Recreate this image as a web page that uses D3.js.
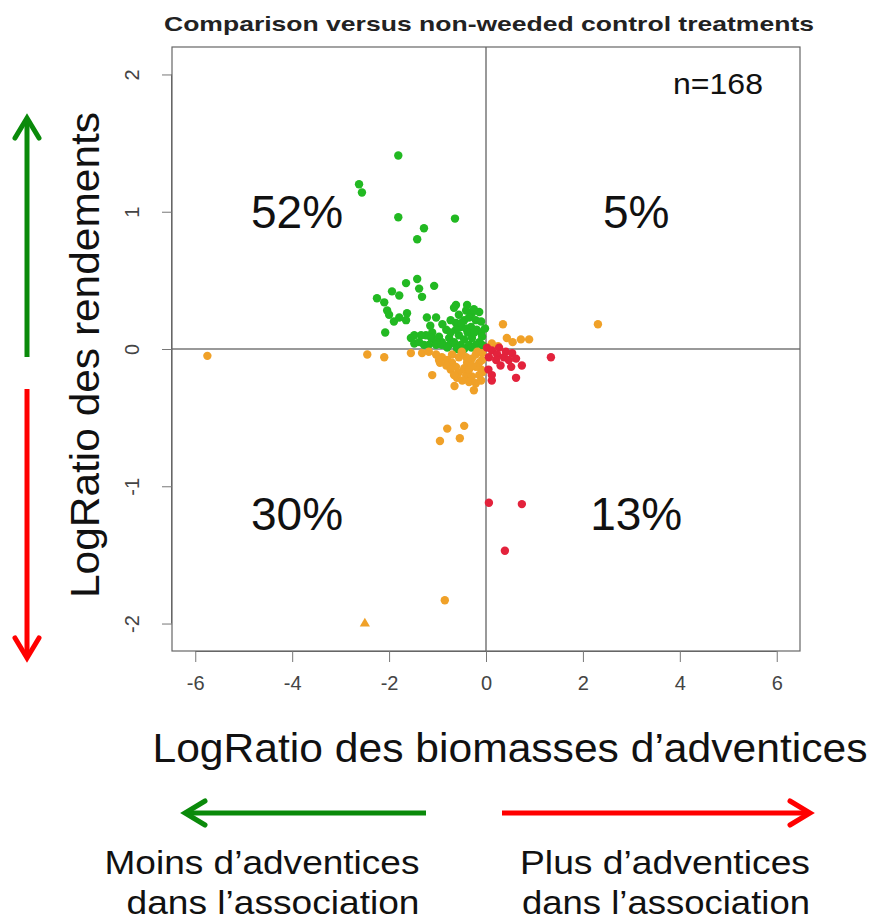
<!DOCTYPE html>
<html>
<head>
<meta charset="utf-8">
<script src="https://cdn.jsdelivr.net/npm/d3@7"></script>
<style>
  body { margin: 0; background: #fff; }
  text { font-family: "Liberation Sans", Arial, sans-serif; }
</style>
</head>
<body>
<svg id="chart" width="874" height="921"></svg>
<script>
// upper-left: yield up, weeds down
const greenPts = [
  [-1.81,1.41],[-2.62,1.20],[-2.56,1.14],[-1.81,0.96],[-0.64,0.95],[-1.28,0.88],[-1.42,0.80],
  [-1.65,0.48],[-1.42,0.51],[-1.38,0.44],[-1.07,0.46],[-1.94,0.42],[-1.79,0.39],[-2.25,0.37],
  [-2.10,0.34],[-2.04,0.28],[-2.00,0.25],[-1.63,0.26],[-1.65,0.21],[-1.32,0.38],[-1.22,0.23],
  [-1.03,0.23],[-2.08,0.12],[-0.62,0.32],[-0.41,0.28],[-0.29,0.26],[-0.14,0.27],
  [-0.56,0.25],[-0.45,0.21],[-0.35,0.23],[-0.21,0.21],[-0.10,0.20],[-0.62,0.19],[-0.52,0.16],
  [-0.41,0.15],[-0.31,0.16],[-0.19,0.14],[-0.10,0.12],[-1.11,0.12],[-0.82,0.14],[-1.24,0.10],
  [-1.13,0.08],[-0.97,0.09],[-0.91,0.05],[-1.03,0.05],[-0.76,0.08],[-0.66,0.05],[-0.56,0.10],
  [-0.45,0.07],[-0.29,0.08],[-0.14,0.05],[-0.08,0.09],[-1.55,0.08],[-1.48,0.04],[-1.38,0.05],
  [-1.28,0.03],[-1.18,0.03],[-1.03,0.03],[-0.91,0.03],[-0.76,0.03],[-0.62,0.03],[-0.52,0.03],
  [-0.35,0.03],[-0.21,0.03],[-0.08,0.03],
  [-0.66,0.30],[-0.39,0.32],[-0.25,0.29],[-0.62,0.14],[-0.73,0.12],[-0.38,0.12],[-0.24,0.12],
  [-0.51,0.19],[-0.73,0.21],[-1.34,0.10],[-1.48,0.10],[-1.90,0.20],[-1.79,0.23],
  [-0.05,0.02],[-0.02,0.15],[-0.90,0.18],[-1.15,0.17],[-0.45,0.00],[-0.30,0.01],[-0.60,0.00],[-0.80,0.01]
];
// lower-left and upper-right
const orangePts = [
  [-5.75,-0.05],[-2.45,-0.04],[-2.10,-0.06],[-1.11,-0.19],
  [-1.32,-0.03],[-1.18,-0.02],[-1.03,-0.04],[-0.91,-0.06],[-0.80,-0.08],[-0.70,-0.10],[-0.62,-0.13],
  [-0.56,-0.17],[-0.41,-0.19],[-0.29,-0.20],[-0.14,-0.19],[-0.10,-0.15],[-0.14,-0.10],[-0.29,-0.07],
  [-0.39,-0.10],[-0.45,-0.14],[-0.35,-0.15],[-0.21,-0.13],[-0.60,-0.21],[-0.49,-0.23],[-0.35,-0.24],
  [-0.21,-0.25],[-0.10,-0.23],[-0.97,-0.08],[-0.82,-0.12],[-0.73,-0.15],[-0.66,-0.19],[-0.08,-0.03],
  [-0.41,-0.06],[-0.56,-0.06],[-0.70,-0.04],[-0.21,-0.04],[-0.08,-0.08],[-0.08,-0.17],[-0.29,-0.12],
  [-0.80,-0.58],[-0.45,-0.56],[-0.95,-0.67],[-0.54,-0.65],[-0.85,-1.83],
  [-1.55,-0.03],[-0.25,-0.30],[-0.65,-0.27],[-0.95,-0.10],[-0.50,-0.02],[-0.18,-0.02],
  [0.35,0.18],[0.43,0.08],[0.72,0.07],[0.89,0.07],[2.31,0.18],[0.12,0.04],[0.55,0.05],[0.25,0.02]
];
// clipped at the lower limit, drawn as a triangle
const orangeOut = [[-2.5,-2.0]];
// lower-right
const redPts = [
  [0.02,0.01],[0.12,-0.01],[0.27,0.01],[0.41,-0.02],[0.54,-0.03],[0.23,-0.04],[0.37,-0.06],
  [0.06,-0.06],[0.21,-0.08],[0.47,-0.08],[0.62,-0.07],[0.52,-0.13],[0.74,-0.12],[0.62,-0.21],
  [0.12,-0.19],[0.12,-0.23],[1.34,-0.06],[0.30,-0.12],[0.05,-0.15],
  [0.06,-1.12],[0.74,-1.13],[0.39,-1.47]
];
const xTicks = [-6, -4, -2, 0, 2, 4, 6];
const yTicks = [-2, -1, 0, 1, 2];
const quadLabels = [
  {x: -3.9, y: 1.0, t: "52%"},
  {x: 3.1, y: 1.0, t: "5%"},
  {x: -3.9, y: -1.2, t: "30%"},
  {x: 3.1, y: -1.2, t: "13%"}
];

const svg = d3.select("#chart");
const box = {left: 172, right: 800, top: 47, bottom: 651};

const x = d3.scaleLinear().domain([-6.48, 6.48]).range([box.left, box.right]);
const y = d3.scaleLinear().domain([-2.2, 2.2]).range([box.bottom, box.top]);

const col = {green: "#22b922", orange: "#f0a128", red: "#e3223c"};
const fmt = d => String(d);   // plain hyphen minus like R

// reference lines
svg.append("line").attr("x1", box.left).attr("x2", box.right)
  .attr("y1", y(0)).attr("y2", y(0)).attr("stroke", "#777").attr("stroke-width", 1.5);
svg.append("line").attr("y1", box.top).attr("y2", box.bottom)
  .attr("x1", x(0)).attr("x2", x(0)).attr("stroke", "#777").attr("stroke-width", 1.5);

// box
svg.append("rect").attr("x", box.left).attr("y", box.top)
  .attr("width", box.right - box.left).attr("height", box.bottom - box.top)
  .attr("fill", "none").attr("stroke", "#666").attr("stroke-width", 1.2);

// axes
const xAxis = svg.append("g").attr("transform", `translate(0,${box.bottom})`)
  .call(d3.axisBottom(x).tickValues(xTicks).tickFormat(fmt).tickSize(11).tickPadding(14).tickSizeOuter(0));
xAxis.select(".domain").attr("d", `M${x(-6)},0.5H${x(6)}`).attr("stroke", "#666");
xAxis.selectAll(".tick line").attr("stroke", "#777");
xAxis.selectAll("text").attr("font-size", 20).attr("fill", "#444")
  .style("font-family", "'Liberation Sans', Arial, sans-serif");

const yAxis = svg.append("g").attr("transform", `translate(${box.left},0)`)
  .call(d3.axisLeft(y).tickValues(yTicks).tickFormat(fmt).tickSize(10).tickSizeOuter(0));
yAxis.select(".domain").attr("d", `M-0.5,${y(-2)}V${y(2)}`).attr("stroke", "#666");
yAxis.selectAll(".tick line").attr("stroke", "#777");
yAxis.selectAll("text")
  .attr("x", 0).attr("dy", 0)
  .attr("transform", "translate(-40,0) rotate(-90)")
  .attr("text-anchor", "middle").attr("dominant-baseline", "central")
  .attr("font-size", 20).attr("fill", "#444")
  .style("font-family", "'Liberation Sans', Arial, sans-serif");

// points
const groups = [[greenPts, col.green], [orangePts, col.orange], [redPts, col.red]];
groups.forEach(([pts, c]) => {
  svg.append("g").selectAll("circle")
    .data(pts)
    .join("circle")
    .attr("cx", d => x(d[0]))
    .attr("cy", d => y(d[1]))
    .attr("r", 4.2)
    .attr("fill", c);
});
svg.append("g").selectAll("path")
  .data(orangeOut)
  .join("path")
  .attr("d", d3.symbol(d3.symbolTriangle, 45))
  .attr("transform", d => `translate(${x(d[0])},${y(d[1])})`)
  .attr("fill", col.orange);

// texts
svg.append("text").attr("x", 489).attr("y", 31).attr("text-anchor", "middle")
  .attr("font-size", 21).attr("font-weight", "bold").attr("fill", "#222")
  .attr("textLength", 650).attr("lengthAdjust", "spacingAndGlyphs")
  .text("Comparison versus non-weeded control treatments");

svg.append("text").attr("x", 718).attr("y", 94).attr("text-anchor", "middle")
  .attr("font-size", 30).attr("fill", "#111")
  .attr("textLength", 90).attr("lengthAdjust", "spacingAndGlyphs").text("n=168");

svg.append("g").selectAll("text")
  .data(quadLabels)
  .join("text")
  .attr("x", d => x(d.x)).attr("y", d => y(d.y) + 16)
  .attr("text-anchor", "middle").attr("font-size", 46).attr("fill", "#111")
  .text(d => d.t);

svg.append("text").attr("x", 510).attr("y", 762).attr("text-anchor", "middle")
  .attr("font-size", 40).attr("fill", "#111")
  .attr("textLength", 715).attr("lengthAdjust", "spacingAndGlyphs")
  .text("LogRatio des biomasses d’adventices");

svg.append("text").attr("transform", "translate(99,355) rotate(-90)").attr("text-anchor", "middle")
  .attr("font-size", 40).attr("fill", "#111")
  .attr("textLength", 486).attr("lengthAdjust", "spacingAndGlyphs")
  .text("LogRatio des rendements");

const footLines = [
  {x: 262, y: 874, w: 315, t: "Moins d’adventices"},
  {x: 273, y: 914, w: 293, t: "dans l’association"},
  {x: 665, y: 874, w: 290, t: "Plus d’adventices"},
  {x: 666, y: 914, w: 288, t: "dans l’association"}
];
svg.append("g").selectAll("text")
  .data(footLines)
  .join("text")
  .attr("x", d => d.x).attr("y", d => d.y).attr("text-anchor", "middle")
  .attr("font-size", 33).attr("fill", "#111")
  .attr("textLength", d => d.w).attr("lengthAdjust", "spacingAndGlyphs")
  .text(d => d.t);

// arrows
const arrows = [
  {x1: 27, y1: 357, x2: 27, y2: 118, c: "#0a8a0a"},
  {x1: 27, y1: 389, x2: 27, y2: 658, c: "#ff0000"},
  {x1: 426, y1: 813, x2: 185, y2: 813, c: "#0a8a0a"},
  {x1: 502, y1: 813, x2: 810, y2: 813, c: "#ff0000"}
];
const ag = svg.append("g");
arrows.forEach(a => {
  const ang = Math.atan2(a.y2 - a.y1, a.x2 - a.x1);
  ag.append("line").attr("x1", a.x1).attr("y1", a.y1)
    .attr("x2", a.x2 - 2 * Math.cos(ang)).attr("y2", a.y2 - 2 * Math.sin(ang))
    .attr("stroke", a.c).attr("stroke-width", 5);
  const L = 20, W = 12;
  const bx = a.x2 - L * Math.cos(ang), by = a.y2 - L * Math.sin(ang);
  const px = -Math.sin(ang), py = Math.cos(ang);
  ag.append("path")
    .attr("d", `M${bx + W * px},${by + W * py}L${a.x2},${a.y2}L${bx - W * px},${by - W * py}`)
    .attr("fill", "none").attr("stroke", a.c).attr("stroke-width", 5)
    .attr("stroke-linecap", "round").attr("stroke-linejoin", "miter");
});
</script>
</body>
</html>
